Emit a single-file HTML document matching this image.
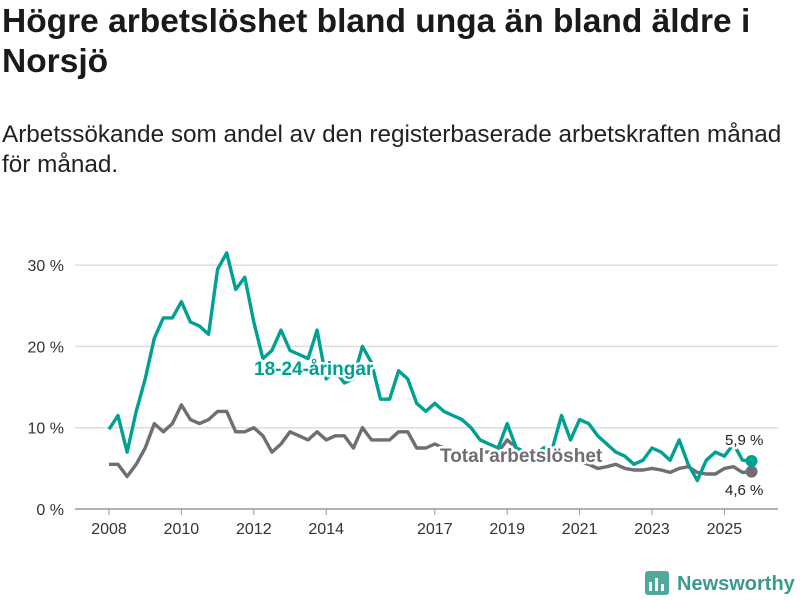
<!DOCTYPE html>
<html><head><meta charset="utf-8"><style>
body{margin:0;width:800px;height:600px;background:#fff;font-family:"Liberation Sans",sans-serif;overflow:hidden;position:relative}
h1{position:absolute;left:2px;top:2px;margin:0;font-size:33.5px;line-height:40px;font-weight:bold;color:#1a1a1a;width:796px}
.sub{position:absolute;left:2px;top:120px;font-size:24.3px;line-height:30px;color:#222;width:795px}
svg{position:absolute;left:0;top:0}
</style></head><body>
<h1>Högre arbetslöshet bland unga än bland äldre i Norsjö</h1>
<div class="sub">Arbetssökande som andel av den registerbaserade arbetskraften månad för månad.</div>
<svg id="c" width="800" height="600"></svg>
<script>
const yTicks=[0,10,20,30];
const yTickLabels=["0 %","10 %","20 %","30 %"];
const xTicks=[2008,2010,2012,2014,2017,2019,2021,2023,2025];
const startYear=2008;
const youth=[9.8,11.5,7,12,16,21,23.5,23.5,25.5,23,22.5,21.5,29.5,31.5,27,28.5,23,18.5,19.5,22,19.5,19,18.5,22,16,17,15.5,16,20,18,13.5,13.5,17,16,13,12,13,12,11.5,11,10,8.5,8,7.5,10.5,7.5,7,6.5,7.5,7.5,11.5,8.5,11,10.5,9,8,7,6.5,5.5,6,7.5,7,6,8.5,5.5,3.5,6,7,6.5,8,6,5.9];
const total=[5.5,5.5,4,5.5,7.5,10.5,9.5,10.5,12.8,11,10.5,11,12,12,9.5,9.5,10,9,7,8,9.5,9,8.5,9.5,8.5,9,9,7.5,10,8.5,8.5,8.5,9.5,9.5,7.5,7.5,8,7.5,7,7,7,7,7,7,8.5,7.5,7,6.8,6.5,6.2,6,6,5.8,5.5,5,5.2,5.5,5,4.8,4.8,5,4.8,4.5,5,5.2,4.5,4.3,4.3,5,5.2,4.5,4.6];
const svg=document.getElementById('c');const NS='http://www.w3.org/2000/svg';
const xs=t=>109+(t-2008)*36.2;
const ys=v=>509-v*8.13;
function mk(tag,attrs,parent){const e=document.createElementNS(NS,tag);for(const k in attrs)e.setAttribute(k,attrs[k]);(parent||svg).appendChild(e);return e;}
yTicks.forEach((v,i)=>{
 const l=mk('line',{x1:75,x2:778,y1:ys(v),y2:ys(v),stroke:v===0?'#999':'#ddd','stroke-width':1.5});
 
 
 const t=mk('text',{x:64,y:ys(v)+6,'text-anchor':'end','font-size':16,fill:'#333'});t.textContent=yTickLabels[i];
 
 
});
xTicks.forEach(y=>{
 const l=mk('line',{x1:xs(y),x2:xs(y),y1:509,y2:515,stroke:'#999'});
 
 
 const t=mk('text',{x:xs(y),y:534,'text-anchor':'middle','font-size':16,fill:'#333'});t.textContent=y;
 
 
});
function line(arr,color,name){
 const d=arr.map((v,i)=>(i?'L':'M')+xs(startYear+i*0.25).toFixed(1)+','+ys(v).toFixed(1)).join('');
 const p=mk('path',{d:d,fill:'none',stroke:color,'stroke-width':3.4,'stroke-linejoin':'round'});
 
 
 const n=arr.length-1;
 const c=mk('circle',{cx:xs(startYear+n*0.25),cy:ys(arr[n]),r:6,fill:color});
 
 
}
line(total,'#6e6e73','total-line');
line(youth,'#00a093','youth-line');
function lab(x,y,txt,color,size,w,name){
 const t=mk('text',{x:x,y:y,'font-size':size,'font-weight':w,fill:color,stroke:'#fff','stroke-width':5,'paint-order':'stroke','stroke-linejoin':'round'});t.textContent=txt;
 
 
}
lab(254,375,'18-24-åringar','#00a093',19,'bold','youth-series-label');
lab(440,462,'Total arbetslöshet','#6e6e73',19,'bold','total-series-label');
lab(725,445,'5,9 %','#222',15,'normal','youth-end-value');
lab(725,495,'4,6 %','#222',15,'normal','total-end-value');
const g=mk('g',{});


mk('rect',{x:645,y:571,width:24,height:24,rx:3,fill:'#4fa89a'},g);
mk('rect',{x:649,y:582,width:3,height:9,fill:'#fff'},g);
mk('rect',{x:655,y:578,width:3,height:13,fill:'#fff'},g);
mk('rect',{x:661,y:584,width:3,height:7,fill:'#fff'},g);
const lt=mk('text',{x:677,y:590,'font-size':20,'font-weight':'bold',fill:'#3a9a8c'},g);lt.textContent='Newsworthy';
</script>
</body></html>
